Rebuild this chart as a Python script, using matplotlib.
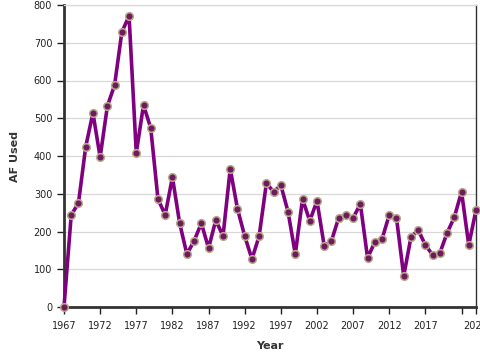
import numpy as np
import matplotlib.pyplot as plt

years = list(range(1967, 2025))
af_used = [0, 244, 275, 424, 514, 397, 532, 588, 728, 771,
           408, 535, 474, 286, 244, 344, 222, 140, 175, 222,
           156, 230, 188, 366, 260, 188, 127, 188, 328, 305,
           323, 252, 140, 286, 228, 281, 162, 175, 236, 244,
           236, 273, 130, 172, 180, 244, 236, 82, 185, 204,
           164, 138, 143, 196, 238, 305, 164, 257]

xticks = [1967, 1972, 1977, 1982, 1987, 1992, 1997, 2002, 2007, 2012, 2017, 2022, 2024]
xtick_labels = ['1967', '1972', '1977', '1982', '1987', '1992', '1997', '2002',
                '2007', '2012', '2017', '', '2024']
yticks = [0, 100, 200, 300, 400, 500, 600, 700, 800]

fig = plt.figure(figsize=(4.8, 3.6), dpi=100)
ax = fig.add_axes([64 / 480, 1 - 307 / 360, 412 / 480, 302 / 360])

ax.plot(years, af_used, color='#800080', linewidth=2.6, zorder=3,
        marker='o', markersize=5.5, markerfacecolor='#6e1a5c',
        markeredgecolor='#b8a98c', markeredgewidth=1.1, clip_on=False)

ax.set_xlim(1967, 2024)
ax.set_ylim(0, 800)
ax.set_xticks(xticks)
ax.set_xticklabels(xtick_labels)
ax.set_yticks(yticks)
ax.tick_params(labelsize=7, colors='#222222', length=5, width=1)
ax.tick_params(axis='x', pad=5)
ax.grid(axis='y', color='#d8d8d8', linewidth=0.9)
ax.set_axisbelow(True)

ax.spines['left'].set_linewidth(2)
ax.spines['bottom'].set_linewidth(2)
ax.spines['left'].set_color('#333333')
ax.spines['bottom'].set_color('#333333')
ax.spines['right'].set_color('#333333')
ax.spines['right'].set_linewidth(1)
ax.spines['top'].set_color('#d8d8d8')
ax.spines['top'].set_linewidth(0.9)

ax.set_xlabel('Year', fontsize=8, fontweight='bold', color='#333333')
ax.set_ylabel('AF Used', fontsize=8, fontweight='bold', color='#333333')
ax.xaxis.set_label_coords(0.5, -0.113)
ax.yaxis.set_label_coords(-0.108, 0.5)

fig.savefig('out.png', dpi=100)
